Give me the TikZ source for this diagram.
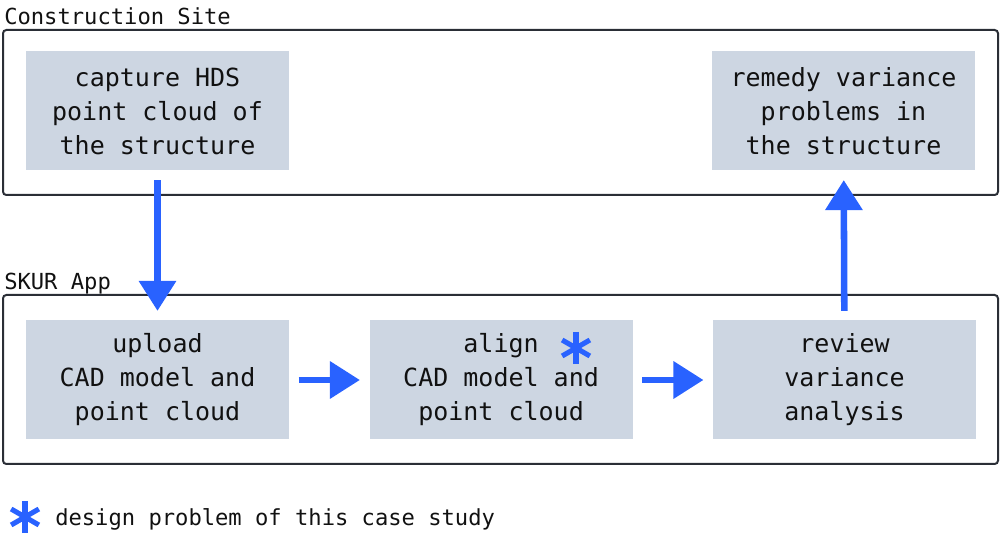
\documentclass[tikz,border=0pt]{standalone}
\usepackage{fontspec}
\setmainfont{DejaVu Sans Mono}
\usetikzlibrary{arrows.meta,positioning,calc}

\definecolor{boxfill}{RGB}{205,214,226}
\definecolor{edge}{RGB}{42,46,54}
\definecolor{flowblue}{RGB}{41,98,255}
\definecolor{ink}{RGB}{17,17,17}

\newcommand{\boxfont}{\fontsize{18.75pt}{25.5pt}\selectfont}
\newcommand{\labelfont}{\fontsize{16.6pt}{20pt}\selectfont}

\tikzset{
    stepbox/.style={fill=boxfill, minimum width=197.25pt, minimum height=89.25pt,
        inner sep=0pt, align=center, font=\boxfont, text=ink},
    frame/.style={draw=edge, line width=1.5pt, rounded corners=2.5pt},
    framelabel/.style={font=\labelfont, text=ink, anchor=base west, inner sep=0pt},
    flow/.style={draw=flowblue, line width=4.9pt, -{Triangle[length=22.5pt,width=27pt]},
        shorten <=7pt, shorten >=7pt},
    pics/mark/.style={code={
        \foreach \a in {90,30,150}
            \draw[flowblue, line width=3.8pt] (\a:12pt) -- (\a+180:12pt);
    }}
}

\begin{document}
\begin{tikzpicture}[x=0.75pt, y=-0.75pt]
    \useasboundingbox (0,0) rectangle (1000,555);

    % Construction Site
    \draw[frame] (3,30) rectangle (998,195);
    \node[framelabel] (sitelabel) at (4,25) {Construction Site};
    \node[stepbox] (capture) at (157.5,111) {capture HDS\\point cloud of\\the structure};
    \node[stepbox] (remedy) at (843.5,111) {remedy variance\\problems in\\the structure};

    % SKUR App
    \draw[frame] (3,295) rectangle (998,464);
    \node[framelabel] (applabel) at (4,290) {SKUR App};
    \node[stepbox] (upload) at (157.5,380) {upload\\CAD model and\\point cloud};
    \node[stepbox, right=60pt of upload] (align) {align\\CAD model and\\point cloud};
    \node[stepbox, right=60pt of align] (review) {review\\variance\\analysis};
    \pic at (576,348) {mark};

    % flow
    \draw[flow] (capture) -- (upload);
    \draw[flow] (upload) -- (align);
    \draw[flow] (align) -- (review);
    \draw[flow] (review) -- (remedy);

    % legend
    \pic at (25,517) {mark};
    \node[framelabel] (legend) at (55,526) {design problem of this case study};
\end{tikzpicture}
\end{document}
